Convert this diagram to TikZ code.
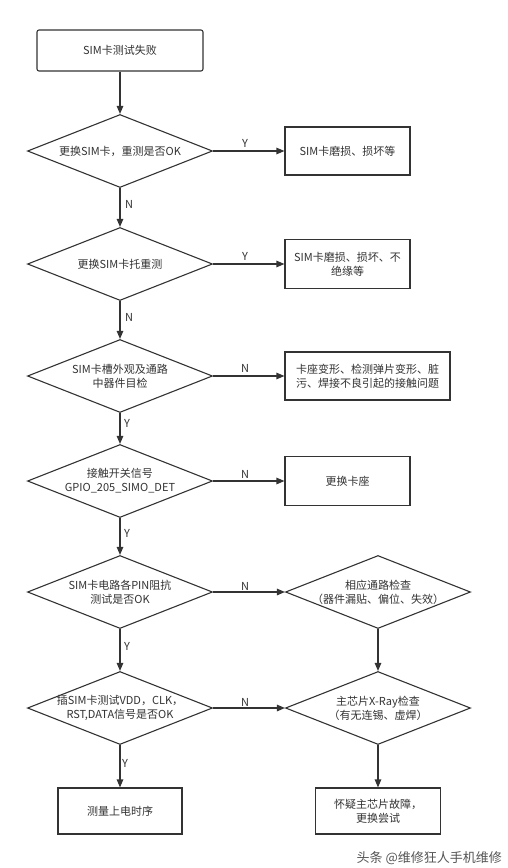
\documentclass[tikz,border=0pt]{standalone}
\usepackage{fontspec}
\setmainfont{Noto Sans CJK SC}
\usetikzlibrary{shapes.geometric,arrows.meta}
\definecolor{lc}{HTML}{333333}
\definecolor{tc}{HTML}{333333}
\definecolor{wm}{HTML}{555555}
\newcommand\myfs{\fontsize{11pt}{14pt}\selectfont}
\tikzset{
  dia/.style={diamond, draw=lc, line width=1.1pt, minimum width=185pt, minimum height=73pt, inner sep=0pt},
  boxnode/.style={rectangle, draw=lc, line width=1.1pt, inner sep=0pt, align=center, font=\myfs, text=tc},
  txt/.style={align=center, font=\myfs, text=tc, inner sep=0pt},
  arr/.style={draw=lc, line width=1.1pt, -{Triangle[length=8pt,width=6.5pt]}},
  lab/.style={font=\myfs, text=tc, inner sep=0pt}
}
\begin{document}
\begin{tikzpicture}[x=1pt,y=-1pt]
\path[use as bounding box, fill=white] (0,0) rectangle (507,868);

% left column
\node[boxnode, rounded corners=2pt, minimum width=166pt, minimum height=41pt] (s) at (120,50.5) {SIM卡测试失败};
\node[dia] (d1) at (120,151) {};
\node[txt] at (d1) {更换SIM卡，重测是否OK};
\node[dia] (d2) at (120,264) {};
\node[txt] at (d2) {更换SIM卡托重测};
\node[dia] (d3) at (120,376) {};
\node[txt] at (d3) {SIM卡槽外观及通路\\中器件目检};
\node[dia] (d4) at (120,481) {};
\node[txt] at (d4) {接触开关信号\\GPIO\_205\_SIMO\_DET};
\node[dia] (d5) at (120,592) {};
\node[txt] at (d5) {SIM卡电路各PIN阻抗\\测试是否OK};
\node[dia] (d6) at (120,708) {};
\node[txt] at (d6) {插SIM卡测试VDD，CLK，\\RST,DATA信号是否OK};
\node[boxnode, minimum width=124pt, minimum height=46pt] (bl) at (120,811) {测量上电时序};

% right column
\node[boxnode, minimum width=125pt, minimum height=48pt] (r1) at (347.5,151) {SIM卡磨损、损坏等};
\node[boxnode, minimum width=125pt, minimum height=49pt] (r2) at (347.5,264) {SIM卡磨损、损坏、不\\绝缘等};
\node[boxnode, minimum width=165pt, minimum height=48pt] (r3) at (367.5,376) {卡座变形、检测弹片变形、脏\\污、焊接不良引起的接触问题};
\node[boxnode, minimum width=125pt, minimum height=49pt] (r4) at (347.5,481) {更换卡座};
\node[dia] (d5r) at (378,592) {};
\node[txt] at (d5r) {相应通路检查\\（器件漏贴、偏位、失效）};
\node[dia] (d6r) at (378,708) {};
\node[txt] at (d6r) {主芯片X-Ray检查\\（有无连锡、虚焊）};
\node[boxnode, minimum width=125pt, minimum height=46pt] (br) at (378,811) {怀疑主芯片故障，\\更换尝试};

% vertical arrows
\draw[arr] (s.south) -- (d1.north);
\draw[arr] (d1.south) -- (d2.north);
\draw[arr] (d2.south) -- (d3.north);
\draw[arr] (d3.south) -- (d4.north);
\draw[arr] (d4.south) -- (d5.north);
\draw[arr] (d5.south) -- (d6.north);
\draw[arr] (d6.south) -- (bl.north);
\draw[arr] (d5r.south) -- (d6r.north);
\draw[arr] (d6r.south) -- (br.north);

% horizontal arrows
\draw[arr] (d1.east) -- (r1.west);
\draw[arr] (d2.east) -- (r2.west);
\draw[arr] (d3.east) -- (r3.west);
\draw[arr] (d4.east) -- (r4.west);
\draw[arr] (d5.east) -- (d5r.west);
\draw[arr] (d6.east) -- (d6r.west);

% labels
\node[lab] (l1) at (245,143) {Y};
\node[lab] (l2) at (245,256) {Y};
\node[lab] (l3) at (245,368) {N};
\node[lab] (l4) at (245,474) {N};
\node[lab] (l5) at (245,586) {N};
\node[lab] (l6) at (245,702) {N};
\node[lab] (v1) at (129,204) {N};
\node[lab] (v2) at (129,317) {N};
\node[lab] (v3) at (127,423) {Y};
\node[lab] (v4) at (127,533) {Y};
\node[lab] (v5) at (127,646) {Y};
\node[lab] (v6) at (125,763) {Y};

% watermark
\node[font=\fontsize{13pt}{15pt}\selectfont, text=wm, anchor=east, inner sep=0pt] (wmk) at (502,858) {头条 @维修狂人手机维修};
\end{tikzpicture}
\end{document}
